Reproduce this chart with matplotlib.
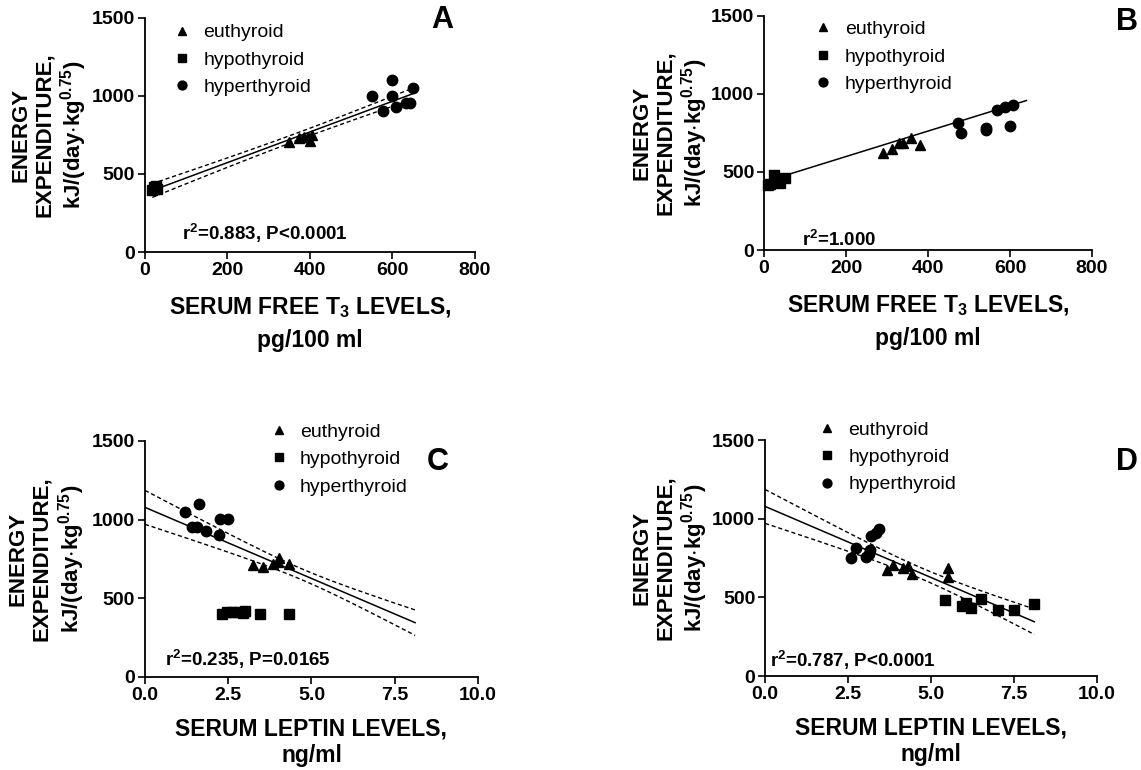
import numpy as np
import matplotlib
matplotlib.use('Agg')
import matplotlib.pyplot as plt

plt.rcParams['font.family'] = ['Liberation Sans', 'DejaVu Sans']
plt.rcParams['mathtext.default'] = 'regular'

# ---- data ----
# Panel A: free T3 (pg/100 ml) vs energy expenditure
a_eu_x = [350, 375, 385, 395, 400, 405]
a_eu_y = [705, 730, 735, 740, 710, 750]
a_hypo_x = [18, 22, 25, 28, 30]
a_hypo_y = [400, 415, 410, 420, 405]
a_hyper_x = [550, 578, 600, 600, 610, 634, 643, 650]
a_hyper_y = [1000, 904, 1103, 1000, 931, 953, 957, 1049]

# Panel B
b_eu_x = [291, 311, 329, 339, 359, 380]
b_eu_y = [624, 645, 688, 685, 716, 673]
b_hypo_x = [10, 15, 25, 30, 40, 50]
b_hypo_y = [415, 420, 480, 440, 430, 460]
b_hyper_x = [474, 480, 541, 541, 568, 588, 600, 608]
b_hyper_y = [816, 752, 769, 780, 897, 915, 795, 929]
b_fit_x = [0, 640]
b_fit_y = [436, 958]

# Panel C: leptin (ng/ml)
c_eu_x = [3.23, 3.55, 3.83, 3.98, 4.03, 4.33]
c_eu_y = [712, 701, 718, 733, 754, 718]
c_hypo_x = [2.3, 2.45, 2.6, 2.8, 2.95, 3.0, 3.45, 4.33]
c_hypo_y = [400, 410, 415, 412, 405, 420, 400, 400]
c_hyper_x = [1.2, 1.63, 1.4, 1.55, 1.83, 2.25, 2.5, 2.23]
c_hyper_y = [1050, 1099, 955, 955, 929, 1002, 1002, 902]

# Panel D
d_eu_x = [3.66, 3.86, 4.14, 4.31, 4.44, 5.51, 5.51]
d_eu_y = [672, 706, 689, 697, 647, 685, 630]
d_hypo_x = [5.41, 5.94, 6.06, 6.21, 6.51, 7.01, 7.51, 8.11]
d_hypo_y = [481, 445, 466, 435, 488, 418, 418, 460]
d_hyper_x = [2.58, 2.73, 3.03, 3.13, 3.15, 3.19, 3.34, 3.43]
d_hyper_y = [749, 812, 757, 778, 800, 891, 912, 933]

labels = ['euthyroid', 'hypothyroid', 'hyperthyroid']
markers = ['^', 's', 'o']
ylab = 'ENERGY\nEXPENDITURE,\nkJ/(day$\\cdot$kg$^{0.75}$)'


def fit_ci(x, y, xs, t=2.08):
    x = np.asarray(x, float)
    y = np.asarray(y, float)
    b1, b0 = np.polyfit(x, y, 1)
    n = len(x)
    resid = y - (b0 + b1 * x)
    s = np.sqrt(np.sum(resid ** 2) / (n - 2))
    sxx = np.sum((x - x.mean()) ** 2)
    yhat = b0 + b1 * xs
    half = t * s * np.sqrt(1 / n + (xs - x.mean()) ** 2 / sxx)
    return yhat, yhat - half, yhat + half


def style(ax, xmax, xticks, xfmt, xlabel, ylpos, xls, xpad):
    ax.spines['top'].set_visible(False)
    ax.spines['right'].set_visible(False)
    for sp in ['left', 'bottom']:
        ax.spines[sp].set_linewidth(1.3)
    ax.set_xlim(0, xmax)
    ax.set_ylim(0, 1500)
    ax.set_xticks(xticks)
    ax.set_xticklabels([xfmt.format(v) for v in xticks])
    ax.set_yticks([0, 500, 1000, 1500])
    ax.tick_params(direction='out', length=5, width=1.2, labelsize=14, pad=2)
    for lab in ax.get_xticklabels() + ax.get_yticklabels():
        lab.set_fontweight('bold')
    ax.set_xlabel(xlabel, fontsize=16.5, fontweight='bold', labelpad=xpad, linespacing=xls)
    ax.set_ylabel(ylab, fontsize=16, fontweight='bold', linespacing=1.15)
    ax.yaxis.set_label_coords(ylpos, 0.5)


def scatter(ax, groups):
    for (gx, gy), m, lab in zip(groups, markers, labels):
        ms = 7 if m == '^' else 7.5
        ax.plot(gx, gy, m, color='black', ms=ms, label=lab, clip_on=False)


def legend(ax, x0, y0):
    ax.legend(loc='upper left', bbox_to_anchor=(x0, y0), frameon=False,
              fontsize=14, handlelength=1.0, handletextpad=0.6,
              labelspacing=0.5, borderpad=0, borderaxespad=0, markerscale=0.85)


fig = plt.figure(figsize=(11.41, 7.70), dpi=100)
axA = fig.add_axes([0.127, 0.6727, 0.289, 0.304])
axB = fig.add_axes([0.6696, 0.6753, 0.2875, 0.304])
axC = fig.add_axes([0.127, 0.1208, 0.292, 0.3065])
axD = fig.add_axes([0.6705, 0.122, 0.291, 0.3065])

t3_label = 'SERUM FREE T$_3$ LEVELS,\npg/100 ml'
lep_label = 'SERUM LEPTIN LEVELS,\nng/ml'
r2_kw = dict(fontsize=13.5, fontweight='bold', va='center')

# A
all_ax = np.array(a_eu_x + a_hypo_x + a_hyper_x, float)
all_ay = np.array(a_eu_y + a_hypo_y + a_hyper_y, float)
xs = np.linspace(all_ax.min(), all_ax.max(), 100)
yh, lo, hi = fit_ci(all_ax, all_ay, xs)
axA.plot(xs, yh, color='black', lw=1.1)
axA.plot(xs, lo, color='black', lw=1.0, ls=(0, (3, 2)))
axA.plot(xs, hi, color='black', lw=1.0, ls=(0, (3, 2)))
scatter(axA, [(a_eu_x, a_eu_y), (a_hypo_x, a_hypo_y), (a_hyper_x, a_hyper_y)])
style(axA, 800, [0, 200, 400, 600, 800], '{:d}', t3_label, -0.17, 1.5, 12)
legend(axA, 0.083, 0.975)
axA.text(90, 122, 'r$^2$=0.883, P<0.0001', **r2_kw)

# B
axB.plot(b_fit_x, b_fit_y, color='black', lw=1.1)
scatter(axB, [(b_eu_x, b_eu_y), (b_hypo_x, b_hypo_y), (b_hyper_x, b_hyper_y)])
style(axB, 800, [0, 200, 400, 600, 800], '{:d}', t3_label, -0.165, 1.5, 12)
legend(axB, 0.151, 0.98)
axB.text(93, 64, 'r$^2$=1.000', **r2_kw)

# C and D share the regression fitted to panel D data
all_dx = np.array(d_eu_x + d_hypo_x + d_hyper_x, float)
all_dy = np.array(d_eu_y + d_hypo_y + d_hyper_y, float)
xs = np.linspace(0, all_dx.max(), 100)
yh, lo, hi = fit_ci(all_dx, all_dy, xs)
for ax in (axC, axD):
    ax.plot(xs, yh, color='black', lw=1.1)
    ax.plot(xs, lo, color='black', lw=1.0, ls=(0, (3, 2)))
    ax.plot(xs, hi, color='black', lw=1.0, ls=(0, (3, 2)))

scatter(axC, [(c_eu_x, c_eu_y), (c_hypo_x, c_hypo_y), (c_hyper_x, c_hyper_y)])
style(axC, 10, [0, 2.5, 5, 7.5, 10], '{:.1f}', lep_label, -0.175, 1.2, 10)
legend(axC, 0.372, 1.075)
axC.text(0.6, 113, 'r$^2$=0.235, P=0.0165', **r2_kw)

scatter(axD, [(d_eu_x, d_eu_y), (d_hypo_x, d_hypo_y), (d_hyper_x, d_hyper_y)])
style(axD, 10, [0, 2.5, 5, 7.5, 10], '{:.1f}', lep_label, -0.165, 1.2, 10)
legend(axD, 0.158, 1.08)
axD.text(0.15, 100, 'r$^2$=0.787, P<0.0001', **r2_kw)

# panel letters
for lt, (x, y) in zip('ABCD', [(0.388, 0.974), (0.988, 0.972), (0.384, 0.4), (0.988, 0.4)]):
    fig.text(x, y, lt, fontsize=22, fontweight='bold', ha='center', va='center')

fig.savefig('out.png', dpi=100)
